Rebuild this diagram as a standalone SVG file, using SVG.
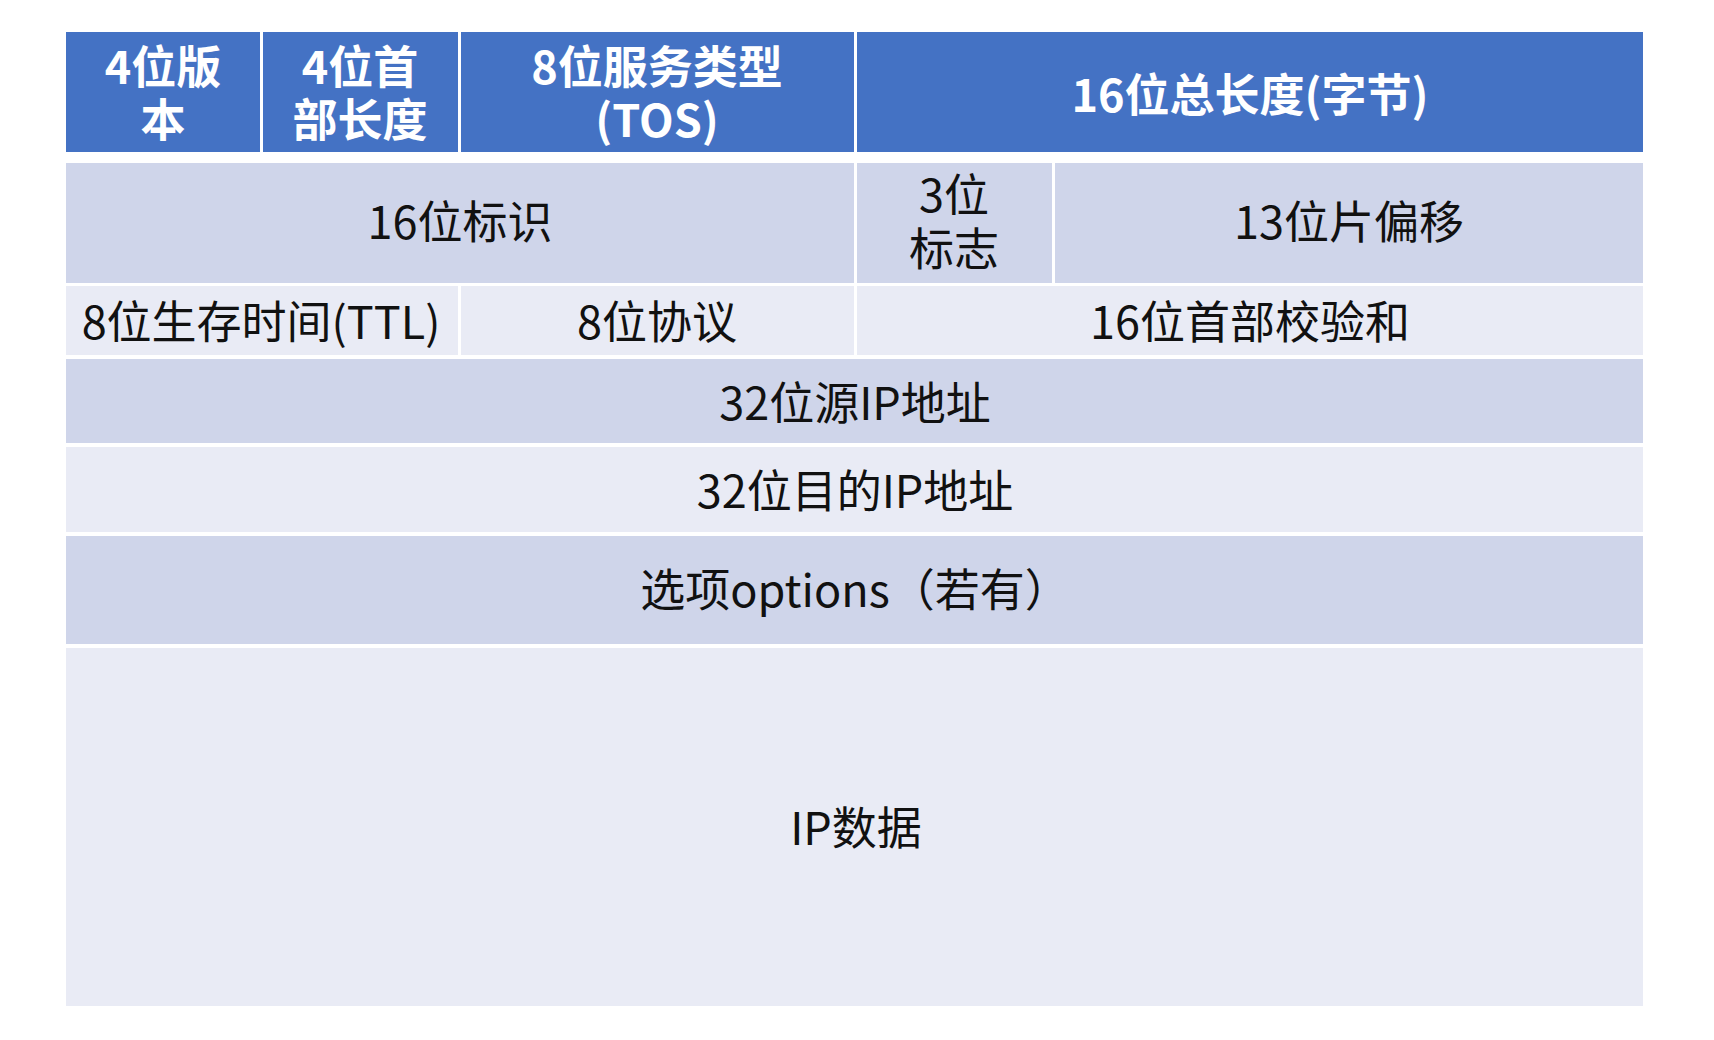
<svg xmlns="http://www.w3.org/2000/svg" width="1714" height="1040" viewBox="0 0 1714 1040">
<style>
.hd{fill:#4472C4}
.dk{fill:#CFD5EA}
.lt{fill:#E9EBF5}
text{font-family:"Noto Sans CJK SC","Noto Sans",sans-serif;font-size:45px;text-anchor:middle;dominant-baseline:central}
.ht{fill:#FFFFFF;font-weight:bold}
.bt{fill:#111111}
</style>
<rect width="1714" height="1040" fill="#FFFFFF"/>
<g id="hdr-version"><rect class="hd" x="66" y="32" width="194" height="120"/><text class="ht"><tspan x="163" y="64">4位版</tspan><tspan x="163" y="117">本</tspan></text></g>
<g id="hdr-ihl"><rect class="hd" x="263" y="32" width="195" height="120"/><text class="ht"><tspan x="360" y="64">4位首</tspan><tspan x="360" y="117">部长度</tspan></text></g>
<g id="hdr-tos"><rect class="hd" x="461" y="32" width="393" height="120"/><text class="ht"><tspan x="657" y="64">8位服务类型</tspan><tspan x="657" y="117">(TOS)</tspan></text></g>
<g id="hdr-len"><rect class="hd" x="857" y="32" width="786" height="120"/><text class="ht" x="1250" y="92">16位总长度(字节)</text></g>
<g id="ident"><rect class="dk" x="66" y="163" width="788" height="120"/><text class="bt" x="460" y="219">16位标识</text></g>
<g id="flags"><rect class="dk" x="857" y="163" width="195" height="120"/><text class="bt"><tspan x="954" y="192">3位</tspan><tspan x="954" y="246">标志</tspan></text></g>
<g id="frag"><rect class="dk" x="1055" y="163" width="588" height="120"/><text class="bt" x="1349" y="219">13位片偏移</text></g>
<g id="ttl"><rect class="lt" x="66" y="286" width="392" height="69"/><text class="bt" x="261" y="319">8位生存时间(TTL)</text></g>
<g id="proto"><rect class="lt" x="461" y="286" width="393" height="69"/><text class="bt" x="657" y="319">8位协议</text></g>
<g id="cksum"><rect class="lt" x="857" y="286" width="786" height="69"/><text class="bt" x="1250" y="319">16位首部校验和</text></g>
<g id="src"><rect class="dk" x="66" y="359" width="1577" height="84"/><text class="bt" x="855" y="400">32位源IP地址</text></g>
<g id="dst"><rect class="lt" x="66" y="447" width="1577" height="85"/><text class="bt" x="855" y="488">32位目的IP地址</text></g>
<g id="opts"><rect class="dk" x="66" y="536" width="1577" height="108"/><text class="bt" x="855" y="587">选项options（若有）</text></g>
<g id="data"><rect class="lt" x="66" y="648" width="1577" height="358"/><text class="bt" x="856" y="825">IP数据</text></g>
<g id="connectors"/>
</svg>
